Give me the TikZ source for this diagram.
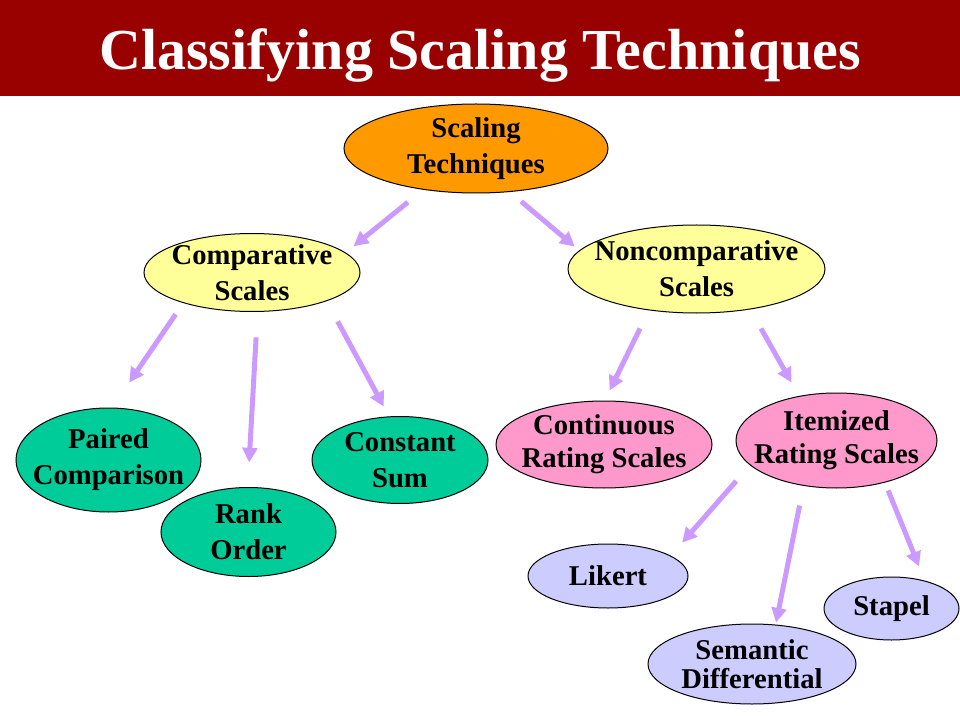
\documentclass[tikz,border=0pt]{standalone}
\usepackage{fontspec}
\setmainfont{Liberation Serif}
\usetikzlibrary{arrows.meta,%
                shapes.geometric}
\definecolor{titlered}{HTML}{990000}
\definecolor{rootorange}{HTML}{FF9900}
\definecolor{scaleyellow}{HTML}{FFFF99}
\definecolor{compgreen}{HTML}{00CC99}
\definecolor{ratingpink}{HTML}{FF99CC}
\definecolor{itemlilac}{HTML}{CCCCFF}
\definecolor{arrowpurple}{HTML}{CC99FF}

\begin{document}
\begin{tikzpicture}[x=0.75pt,y=-0.75pt,
		VertexStyle/.style = {draw=black,line width=0.75pt,shape=ellipse,inner xsep=-60pt,inner ysep=-30pt,
			align=center,font=\bfseries\fontsize{21.5}{27}\selectfont},
		EdgeStyle/.style = {draw=arrowpurple,line width=3.75pt,-{Triangle[length=11pt,width=11pt]}}]
		\useasboundingbox (0,0) rectangle (960,720);
		% title
		\fill[titlered] (0,0) rectangle (960,96);
		\node[anchor=base,text=white,font=\bfseries\fontsize{43.5}{50}\selectfont] (title) at (480,70) {Classifying Scaling Techniques};
		% root
		\node[VertexStyle,fill=rootorange,minimum width=198pt,minimum height=66.75pt] (T) at (476,148.5) {Scaling\\Techniques};
		{
			\tikzset{VertexStyle/.append style = {fill=scaleyellow}}
			\node[VertexStyle,minimum width=162pt,minimum height=58.5pt] (C) at (252,272.5) {Comparative\\Scales};
			\node[VertexStyle,minimum width=192.75pt,minimum height=66pt] (N) at (696.5,269) {Noncomparative\\Scales};
		}
		{
			% comparative
			\tikzset{VertexStyle/.append style = {fill=compgreen}}
			\node[VertexStyle,minimum width=138.75pt,minimum height=78pt] (P) at (108.5,460) {Paired\\Comparison};
			\node[VertexStyle,minimum width=131.25pt,minimum height=66.75pt] (R) at (248.5,532) {Rank\\Order};
			\node[VertexStyle,minimum width=132pt,minimum height=65.25pt] (S) at (400,460) {Constant\\Sum};
		}
		{
			% noncomparative
			\tikzset{VertexStyle/.append style = {fill=ratingpink,font=\bfseries\fontsize{21.5}{24.5}\selectfont}}
			\node[VertexStyle,minimum width=162pt,minimum height=65.25pt] (CR) at (604,444.5) {Continuous\\Rating Scales};
			\node[VertexStyle,minimum width=150.75pt,minimum height=71.25pt] (IR) at (836.5,440.5) {Itemized\\Rating Scales};
		}
		{
			% itemized
			\tikzset{VertexStyle/.append style = {fill=itemlilac,font=\bfseries\fontsize{21.5}{21.5}\selectfont}}
			\node[VertexStyle,minimum width=120pt,minimum height=48pt] (L) at (608,576) {Likert};
			\node[VertexStyle,minimum width=156pt,minimum height=60pt] (SD) at (752,664) {Semantic\\Differential};
			\node[VertexStyle,minimum width=101.25pt,minimum height=47.25pt] (St) at (891.5,608.5) {Stapel};
		}
		% top
		\draw[EdgeStyle,shorten <=14.8pt,shorten >=7.6pt] (T.218) -- (C.12);
		\draw[EdgeStyle,shorten <=11pt,shorten >=4.4pt] (T.308) -- (N.171);
		% comparative
		\draw[EdgeStyle,shorten <=10.2pt,shorten >=22.7pt] (C.204) -- (P.86);
		\draw[EdgeStyle,shorten <=19.1pt,shorten >=18.4pt] (C.278) -- (R.91);
		\draw[EdgeStyle,shorten <=17.2pt,shorten >=8.3pt] (C.339) -- (S.104);
		% noncomparative
		\draw[EdgeStyle,shorten <=15.1pt,shorten >=8.3pt] (N.221) -- (CR.89);
		\draw[EdgeStyle,shorten <=16.4pt,shorten >=11.6pt] (N.323) -- (IR.130);
		% itemized
		\draw[EdgeStyle,shorten <=15.7pt,shorten >=13pt] (IR.196) -- (L.18);
		\draw[EdgeStyle,shorten <=15pt,shorten >=1.5pt] (IR.234) -- (SD.59);
		\draw[EdgeStyle,shorten <=6.3pt,shorten >=11.4pt] (IR.319) -- (St.40);
\end{tikzpicture}
\end{document}
